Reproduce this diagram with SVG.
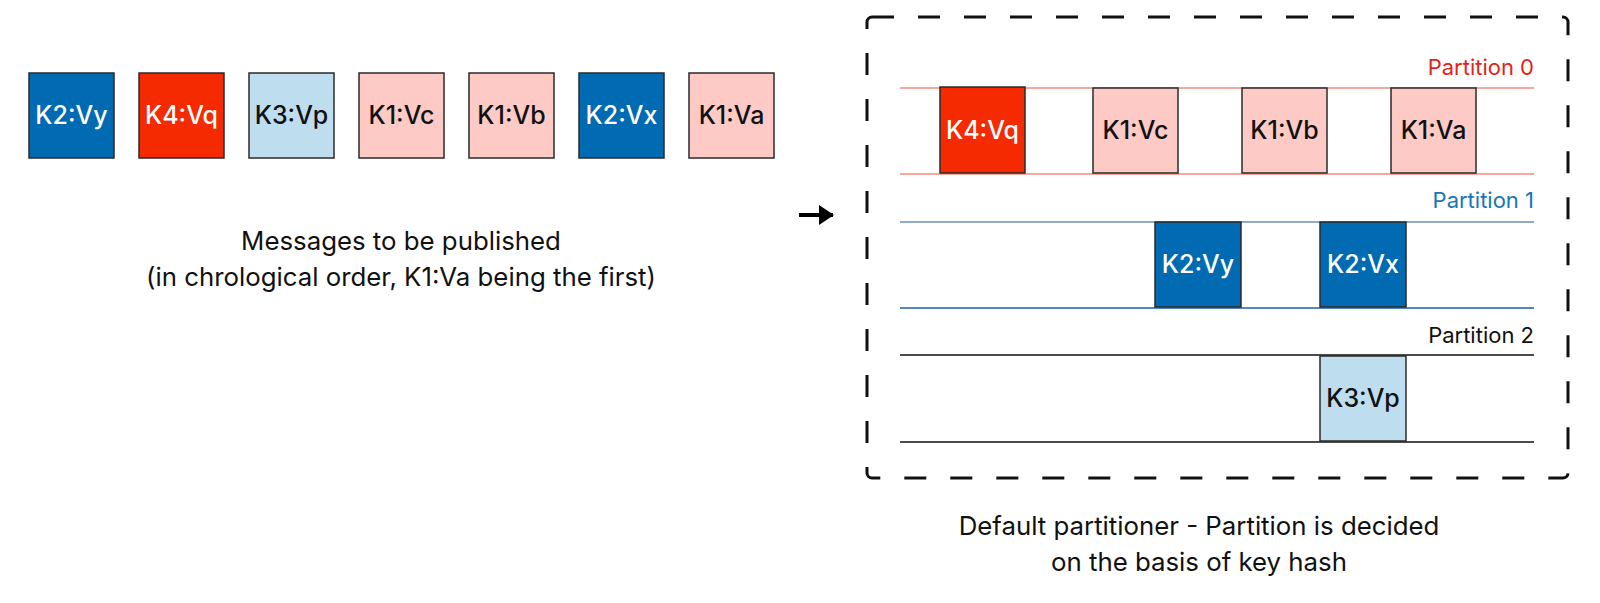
<svg xmlns="http://www.w3.org/2000/svg" width="1600" height="603" viewBox="0 0 1600 603">
<style>
.t{font-family:Inter,"Liberation Sans",sans-serif;font-size:25.8px;text-anchor:middle}
.bl{font-family:Inter,"Liberation Sans",sans-serif;font-size:25px;font-weight:500;text-anchor:middle}
.pl{font-family:Inter,"Liberation Sans",sans-serif;font-size:22px;text-anchor:end}
.box{stroke:#2a2a2a;stroke-width:1.5}
.db{fill:#006AB3}.rd{fill:#F52A00}.lb{fill:#BEDDEF}.pk{fill:#FDCAC5}
.w{fill:#ffffff}.k{fill:#111111}
</style>
<defs>
<marker id="ah" markerWidth="15" markerHeight="20" refX="14" refY="10" orient="auto" markerUnits="userSpaceOnUse">
<path d="M0,0 L15,10 L0,20 z" fill="#000"/>
</marker>
</defs>
<rect width="1600" height="603" fill="#fff"/>

<g id="messages">
<g id="m-k2vy"><rect class="box db" x="29" y="73" width="85" height="85"/><text class="bl w" x="71.5" y="124">K2:Vy</text></g>
<g id="m-k4vq"><rect class="box rd" x="139" y="73" width="85" height="85"/><text class="bl w" x="181.5" y="124">K4:Vq</text></g>
<g id="m-k3vp"><rect class="box lb" x="249" y="73" width="85" height="85"/><text class="bl k" x="291.5" y="124">K3:Vp</text></g>
<g id="m-k1vc"><rect class="box pk" x="359" y="73" width="85" height="85"/><text class="bl k" x="401.5" y="124">K1:Vc</text></g>
<g id="m-k1vb"><rect class="box pk" x="469" y="73" width="85" height="85"/><text class="bl k" x="511.5" y="124">K1:Vb</text></g>
<g id="m-k2vx"><rect class="box db" x="579" y="73" width="85" height="85"/><text class="bl w" x="621.5" y="124">K2:Vx</text></g>
<g id="m-k1va"><rect class="box pk" x="689" y="73" width="85" height="85"/><text class="bl k" x="731.5" y="124">K1:Va</text></g>
</g>

<g id="caption-left">
<text class="t k" x="401" y="250">Messages to be published</text>
<text class="t k" x="401" y="286">(in chrological order, K1:Va being the first)</text>
</g>

<g id="connectors">
<line x1="799" y1="215" x2="833" y2="215" stroke="#000" stroke-width="4" marker-end="url(#ah)"/>
</g>

<g id="partitioner">
<rect x="867" y="17" width="701" height="461" rx="5" fill="none" stroke="#111" stroke-width="3" stroke-dasharray="22 24"/>
</g>

<g id="partition0">
<text class="pl" x="1534" y="75" fill="#E2231A">Partition 0</text>
<line x1="900" y1="88" x2="1534" y2="88" stroke="#F08C7E" stroke-width="1.5"/>
<line x1="900" y1="174" x2="1534" y2="174" stroke="#F08C7E" stroke-width="1.5"/>
<g id="p0-k4vq"><rect class="box rd" x="940" y="87" width="85" height="86"/><text class="bl w" x="982.5" y="139">K4:Vq</text></g>
<g id="p0-k1vc"><rect class="box pk" x="1093" y="88" width="85" height="85"/><text class="bl k" x="1135.5" y="139">K1:Vc</text></g>
<g id="p0-k1vb"><rect class="box pk" x="1242" y="88" width="85" height="85"/><text class="bl k" x="1284.5" y="139">K1:Vb</text></g>
<g id="p0-k1va"><rect class="box pk" x="1391" y="88" width="85" height="85"/><text class="bl k" x="1433.5" y="139">K1:Va</text></g>
</g>

<g id="partition1">
<text class="pl" x="1534" y="208" fill="#1776B8">Partition 1</text>
<line x1="900" y1="222" x2="1534" y2="222" stroke="#6A8FB2" stroke-width="1.5"/>
<line x1="900" y1="308" x2="1534" y2="308" stroke="#1F5FA0" stroke-width="1.5"/>
<g id="p1-k2vy"><rect class="box db" x="1155" y="222" width="86" height="85"/><text class="bl w" x="1198" y="273">K2:Vy</text></g>
<g id="p1-k2vx"><rect class="box db" x="1320" y="222" width="86" height="85"/><text class="bl w" x="1363" y="273">K2:Vx</text></g>
</g>

<g id="partition2">
<text class="pl" x="1534" y="343" fill="#111">Partition 2</text>
<line x1="900" y1="355" x2="1534" y2="355" stroke="#111" stroke-width="1.5"/>
<line x1="900" y1="442" x2="1534" y2="442" stroke="#111" stroke-width="1.5"/>
<g id="p2-k3vp"><rect class="box lb" x="1320" y="356" width="86" height="85"/><text class="bl k" x="1363" y="407">K3:Vp</text></g>
</g>

<g id="caption-right">
<text class="t k" x="1199" y="535">Default partitioner - Partition is decided</text>
<text class="t k" x="1199" y="571">on the basis of key hash</text>
</g>
</svg>
